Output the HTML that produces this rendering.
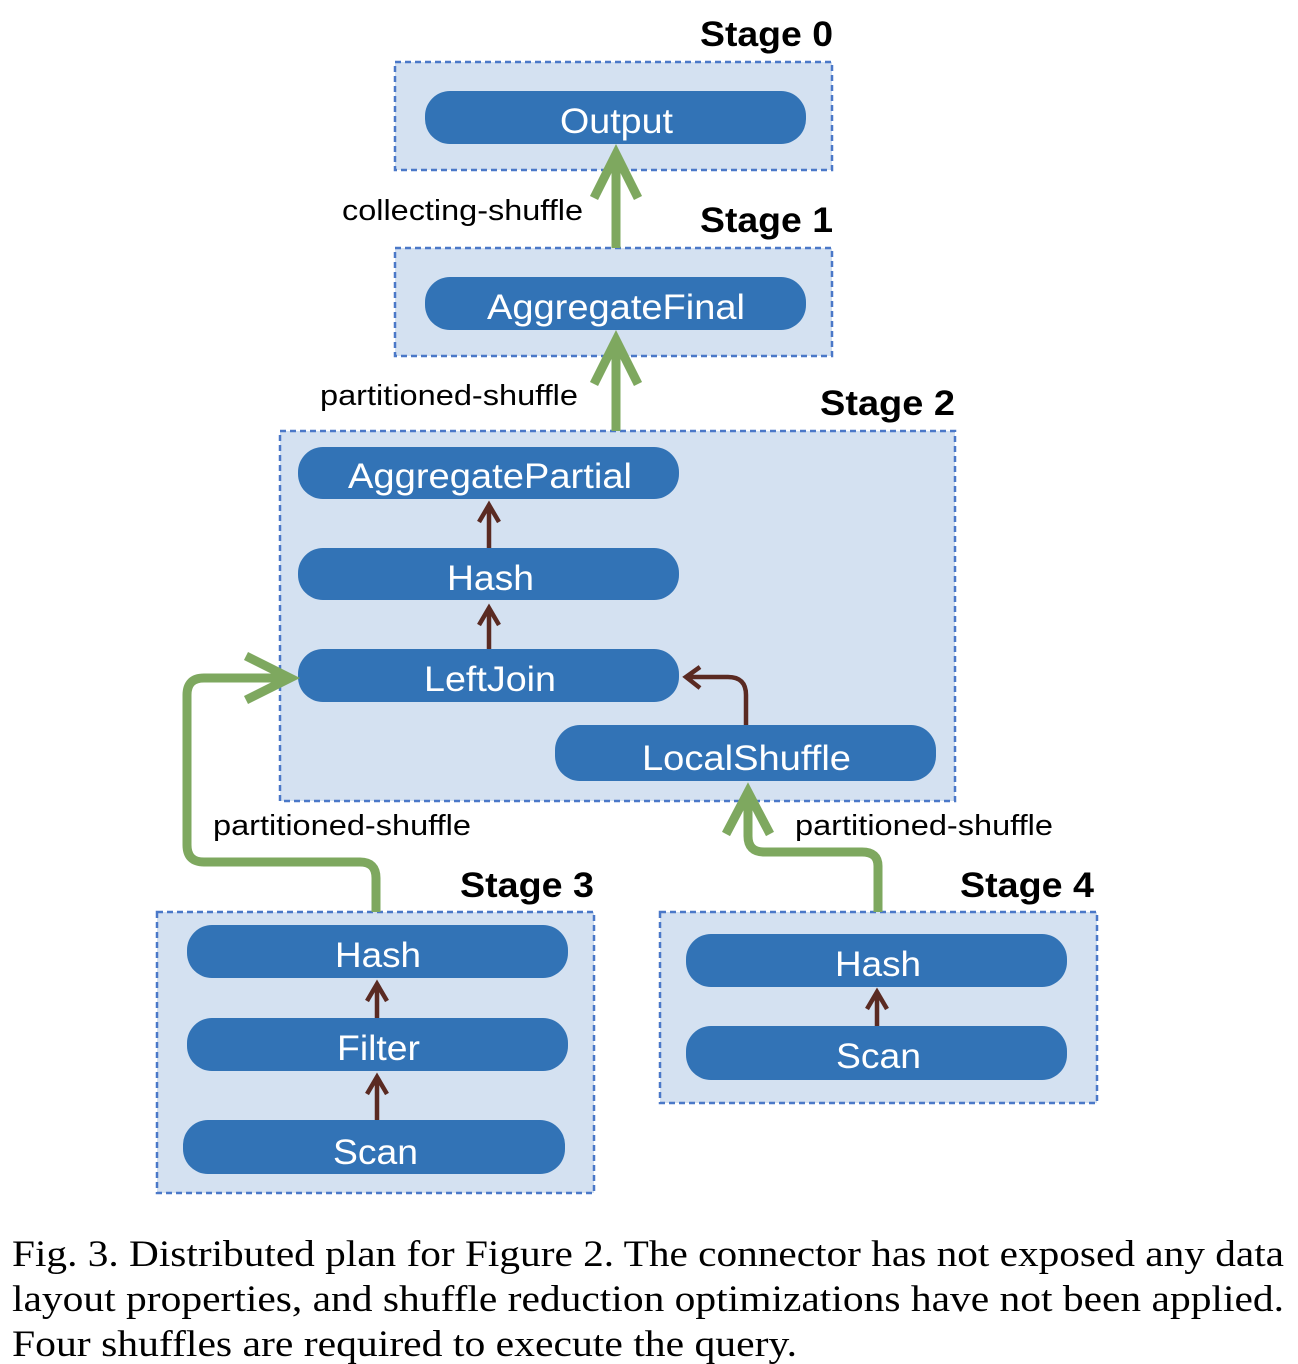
<!DOCTYPE html>
<html><head><meta charset="utf-8"><style>
body{margin:0;background:#fff;width:1298px;height:1364px;overflow:hidden}
</style></head><body>
<svg width="1298" height="1364" style="position:absolute;left:0;top:0" font-family="Liberation Sans, sans-serif">
<g fill="#d4e1f1" stroke="#4a78c8" stroke-width="2.5" stroke-dasharray="6,4">
<rect x="395" y="62" width="437" height="108"/>
<rect x="395" y="248" width="437" height="108"/>
<rect x="280" y="431" width="675" height="370"/>
<rect x="157" y="912" width="437" height="281"/>
<rect x="660" y="912" width="437" height="191"/>
</g>
<g fill="#3273b6">
<rect x="425" y="91" width="381" height="53" rx="25"/>
<rect x="425" y="277" width="381" height="53" rx="25"/>
<rect x="298" y="447" width="381" height="52" rx="25"/>
<rect x="298" y="548" width="381" height="52" rx="25"/>
<rect x="298" y="649" width="381" height="53" rx="25"/>
<rect x="555" y="725" width="381" height="56" rx="25"/>
<rect x="187" y="925" width="381" height="53" rx="25"/>
<rect x="187" y="1018" width="381" height="53" rx="25"/>
<rect x="183" y="1120" width="382" height="54" rx="25"/>
<rect x="686" y="934" width="381" height="53" rx="25"/>
<rect x="686" y="1026" width="381" height="54" rx="25"/>
</g>
<g fill="#fff" font-size="35" lengthAdjust="spacingAndGlyphs">
<text x="560" y="133" textLength="113" lengthAdjust="spacingAndGlyphs">Output</text>
<text x="487" y="319" textLength="258" lengthAdjust="spacingAndGlyphs">AggregateFinal</text>
<text x="348" y="488" textLength="284" lengthAdjust="spacingAndGlyphs">AggregatePartial</text>
<text x="447" y="590" textLength="87" lengthAdjust="spacingAndGlyphs">Hash</text>
<text x="424" y="691" textLength="132" lengthAdjust="spacingAndGlyphs">LeftJoin</text>
<text x="642" y="770" textLength="209" lengthAdjust="spacingAndGlyphs">LocalShuffle</text>
<text x="335" y="967" textLength="86" lengthAdjust="spacingAndGlyphs">Hash</text>
<text x="337" y="1060" textLength="83" lengthAdjust="spacingAndGlyphs">Filter</text>
<text x="333" y="1164" textLength="85" lengthAdjust="spacingAndGlyphs">Scan</text>
<text x="835" y="976" textLength="86" lengthAdjust="spacingAndGlyphs">Hash</text>
<text x="836" y="1068" textLength="85" lengthAdjust="spacingAndGlyphs">Scan</text>
</g>
<g font-size="35" font-weight="bold">
<text x="700" y="46" textLength="133" lengthAdjust="spacingAndGlyphs">Stage 0</text>
<text x="700" y="232" textLength="133" lengthAdjust="spacingAndGlyphs">Stage 1</text>
<text x="820" y="415" textLength="135" lengthAdjust="spacingAndGlyphs">Stage 2</text>
<text x="460" y="897" textLength="134" lengthAdjust="spacingAndGlyphs">Stage 3</text>
<text x="960" y="897" textLength="134" lengthAdjust="spacingAndGlyphs">Stage 4</text>
</g>
<g font-size="29">
<text x="342" y="220" textLength="241" lengthAdjust="spacingAndGlyphs">collecting-shuffle</text>
<text x="320" y="405" textLength="258" lengthAdjust="spacingAndGlyphs">partitioned-shuffle</text>
<text x="213" y="835" textLength="258" lengthAdjust="spacingAndGlyphs">partitioned-shuffle</text>
<text x="795" y="835" textLength="258" lengthAdjust="spacingAndGlyphs">partitioned-shuffle</text>
</g>
<g fill="none" stroke="#7ea85f" stroke-width="9" stroke-linejoin="miter">
<path d="M616 248V154M594 198L616 154L638 198"/>
<path d="M616 431V340M594 384L616 340L638 384"/>
<path d="M376 912V878Q376 862 360 862H204Q187 862 187 845V695Q187 678 204 678H290M246 656L290 678L246 700"/>
<path d="M878 912V866Q878 852 862 852H764Q748 852 748 836V792M726 834L748 792L770 834"/>
</g>
<g fill="none" stroke="#5a2a22" stroke-width="4.5">
<path d="M489 548V505M479 522L489 505L499 522"/>
<path d="M489 649V608M479 625L489 608L499 625"/>
<path d="M746 725V695Q746 677 728 677H686M700 667L686 677L700 688"/>
<path d="M377 1018V984M367 1001L377 984L387 1001"/>
<path d="M377 1120V1077M367 1094L377 1077L387 1094"/>
<path d="M877 1026V992M867 1009L877 992L887 1009"/>
</g>
<g font-family="Liberation Serif, serif" font-size="37">
<text x="12" y="1266" textLength="1272" lengthAdjust="spacingAndGlyphs">Fig. 3.  Distributed plan for Figure 2. The connector has not exposed any data</text>
<text x="12" y="1311" textLength="1272" lengthAdjust="spacingAndGlyphs">layout properties, and shuffle reduction optimizations have not been applied.</text>
<text x="12" y="1356" textLength="785" lengthAdjust="spacingAndGlyphs">Four shuffles are required to execute the query.</text>
</g>
</svg>
</body></html>
